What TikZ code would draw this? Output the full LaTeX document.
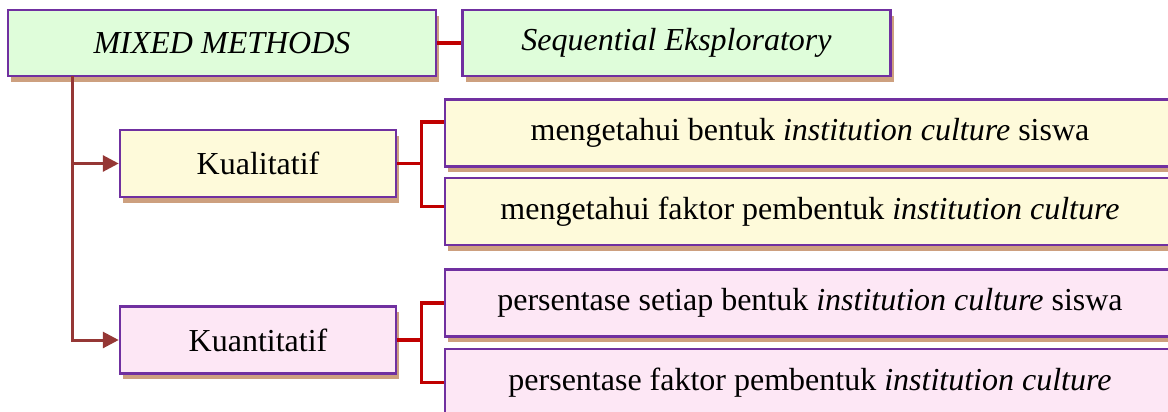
\documentclass[tikz,border=0pt]{standalone}
\usepackage{fontspec}
\setmainfont{Liberation Serif}
\usetikzlibrary{positioning,shadows,arrows.meta}

\definecolor{boxline}{HTML}{7030A0}
\definecolor{boxgreen}{HTML}{DFFDDA}
\definecolor{boxyellow}{HTML}{FEFADA}
\definecolor{boxpink}{HTML}{FDE7F5}
\definecolor{shadowtan}{HTML}{CDA07F}
\definecolor{linkred}{HTML}{C00000}
\definecolor{linkbrown}{HTML}{953735}

\tikzset{
  box/.style={draw=boxline, line width=1.25pt, inner sep=0pt,
    minimum height=33.5pt, font=\fontsize{16}{19}\selectfont,
    drop shadow={shadow xshift=1.6pt, shadow yshift=-2.8pt,
      fill=shadowtan, opacity=1}},
  headbox/.style={box, fill=boxgreen, minimum width=214pt, minimum height=33pt},
  methbox/.style={box, fill=boxyellow, minimum width=138pt},
  kuanbox/.style={box, fill=boxpink, minimum width=138pt},
  kualitem/.style={box, fill=boxyellow, minimum width=365pt},
  kuanitem/.style={box, fill=boxpink, minimum width=365pt},
  redlink/.style={draw=linkred, line width=1.6pt},
  brownlink/.style={draw=linkbrown, line width=1.5pt,
    -{Triangle[length=8pt,width=8pt]}}
}

\begin{document}
\begin{tikzpicture}[x=0.5pt,y=-0.5pt]
  \useasboundingbox (0,0) rectangle (1168,412);

  % top row
  \node[headbox](mixed) at (222,43){\textit{MIXED METHODS}};
  \node[headbox, right=12pt of mixed](seq){\textit{Sequential Eksploratory}};
  \path[redlink] (mixed) edge (seq);

  % kualitatif
  \node[methbox](kual) at (258,163.5){Kualitatif};
  \node[kualitem](kual1) at (810,133){mengetahui bentuk \textit{institution culture} siswa};
  \node[kualitem, below=4.5pt of kual1](kual2){mengetahui faktor pembentuk \textit{institution culture}};
  \coordinate[right=12pt of kual.east](kualj);
  \draw[redlink] (kual.east) -- (kualj);
  \draw[redlink] ([yshift=5.5pt]kual1.west) -| (kualj) |- ([yshift=2.5pt]kual2.west);

  % kuantitatif
  \node[kuanbox, below=53.5pt of kual](kuan){Kuantitatif};
  \node[kuanitem, below=11pt of kual2](kuan1){persentase setiap bentuk \textit{institution culture} siswa};
  \node[kuanitem, below=5pt of kuan1](kuan2){persentase faktor pembentuk \textit{institution culture}};
  \coordinate[right=12pt of kuan.east](kuanj);
  \draw[redlink] (kuan.east) -- (kuanj);
  \draw[redlink] (kuan1.west) -| (kuanj) |- (kuan2.west);

  % trunk
  \coordinate(trunk) at (72,76);
  \draw[brownlink] (trunk) |- (kual.west);
  \draw[brownlink] (trunk) |- (kuan.west);
\end{tikzpicture}
\end{document}
